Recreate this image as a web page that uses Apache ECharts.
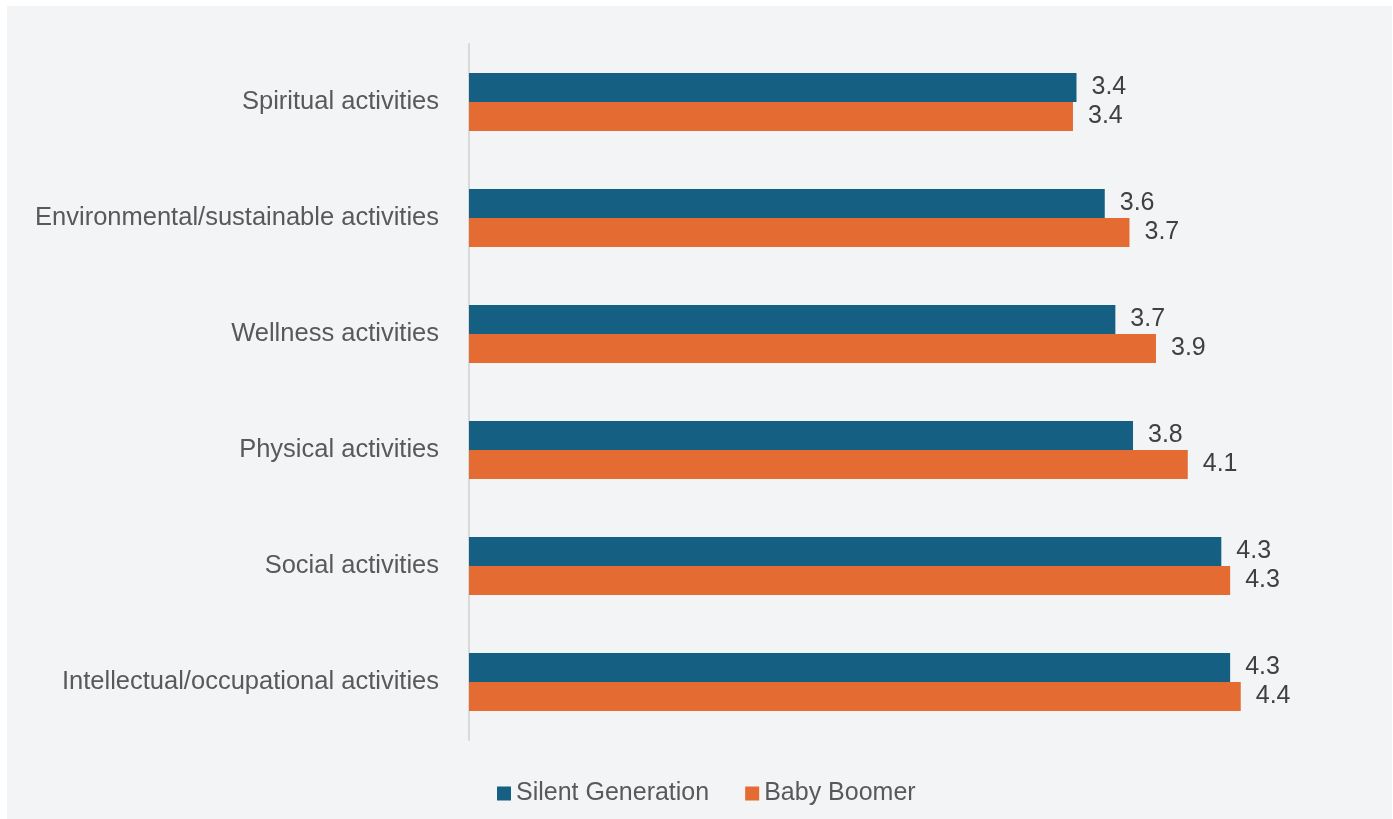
<!DOCTYPE html>
<html>
<head>
<meta charset="utf-8">
<title>Activity ratings by generation</title>
<script src="https://cdn.jsdelivr.net/npm/echarts@6/dist/echarts.min.js"></script>
<style>
  html, body { margin: 0; padding: 0; background: #ffffff; }
  #chart { width: 1393px; height: 819px; }
</style>
</head>
<body>
<div id="chart"></div>
<script>
// Activity categories, top to bottom
const categories = [
  'Spiritual activities',
  'Environmental/sustainable activities',
  'Wellness activities',
  'Physical activities',
  'Social activities',
  'Intellectual/occupational activities'
];

// Mean ratings per generation
const silentGeneration = [3.44, 3.60, 3.66, 3.76, 4.26, 4.31];
const babyBoomer       = [3.42, 3.74, 3.89, 4.07, 4.31, 4.37];

const seriesNames = ['Silent Generation', 'Baby Boomer'];
const seriesColors = ['#156082', '#E46B31'];

const FONT = '"Liberation Sans", Arial, sans-serif';

const chart = echarts.init(document.getElementById('chart'), null, { renderer: 'canvas' });

function barSeries(name, values, color) {
  return {
    name: name,
    type: 'bar',
    data: values,
    barGap: '0%',
    barCategoryGap: '50%',
    itemStyle: { color: color },
    label: {
      show: true,
      position: 'right',
      distance: 15,
      fontFamily: FONT,
      fontSize: 25,
      color: '#404040',
      formatter: p => p.value.toFixed(1)
    },
    emphasis: { disabled: true }
  };
}

chart.setOption({
  animation: false,
  backgroundColor: '#ffffff',
  graphic: [{
    type: 'rect',
    z: -10,
    silent: true,
    shape: { x: 7, y: 6, width: 1385, height: 813 },
    style: { fill: '#F3F4F6' }
  }],
  textStyle: { fontFamily: FONT },
  grid: { left: 469, right: 41, top: 44, bottom: 79, containLabel: false },
  legend: {
    data: seriesNames,
    left: 492,
    top: 776,
    icon: 'rect',
    itemWidth: 14,
    itemHeight: 14,
    itemGap: 36,
    textStyle: { fontFamily: FONT, fontSize: 25, color: '#595959' }
  },
  xAxis: {
    type: 'value',
    min: 0,
    max: 5,
    show: false
  },
  yAxis: {
    type: 'category',
    inverse: true,
    data: categories,
    axisLine: { show: true, lineStyle: { color: '#D9D9D9', width: 2 } },
    axisTick: { show: false },
    axisLabel: {
      margin: 30,
      fontFamily: FONT,
      fontSize: 25.5,
      color: '#595959',
      padding: [0, 0, 5, 0]
    }
  },
  series: [
    barSeries(seriesNames[0], silentGeneration, seriesColors[0]),
    barSeries(seriesNames[1], babyBoomer, seriesColors[1])
  ]
});
</script>
</body>
</html>
